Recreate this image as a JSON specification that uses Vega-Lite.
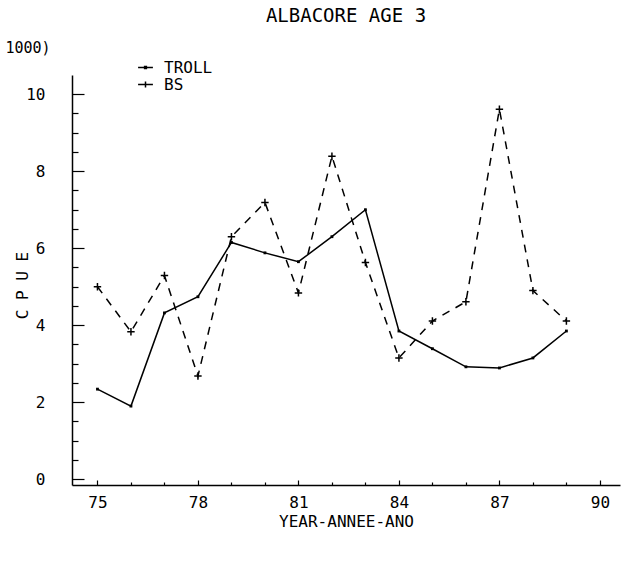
{
  "$schema": "https://vega.github.io/schema/vega-lite/v6.json",
  "width": 548,
  "height": 410,
  "autosize": "none",
  "padding": {"left": 72, "top": 75, "right": 17, "bottom": 78},
  "background": "white",
  "config": {
    "view": {"stroke": null},
    "font": "DejaVu Sans Mono",
    "axis": {
      "grid": false,
      "domainColor": "black",
      "domainWidth": 1.5,
      "tickColor": "black",
      "tickWidth": 1.2,
      "labelColor": "black",
      "titleColor": "black",
      "labelFont": "DejaVu Sans Mono",
      "titleFont": "DejaVu Sans Mono",
      "labelFontSize": 16,
      "titleFontSize": 16,
      "titleFontWeight": "normal"
    },
    "legend": {"labelFont": "DejaVu Sans Mono", "labelFontSize": 16, "labelColor": "black"}
  },
  "title": {
    "text": "ALBACORE AGE 3",
    "font": "DejaVu Sans Mono",
    "fontSize": 19,
    "fontWeight": "normal",
    "color": "black",
    "anchor": "middle",
    "offset": 14
  },
  "data": {
    "values": [
      {"year": 75, "series": "TROLL", "cpue": 2.34},
      {"year": 76, "series": "TROLL", "cpue": 1.9},
      {"year": 77, "series": "TROLL", "cpue": 4.32},
      {"year": 78, "series": "TROLL", "cpue": 4.74},
      {"year": 79, "series": "TROLL", "cpue": 6.15},
      {"year": 80, "series": "TROLL", "cpue": 5.88},
      {"year": 81, "series": "TROLL", "cpue": 5.65},
      {"year": 82, "series": "TROLL", "cpue": 6.3},
      {"year": 83, "series": "TROLL", "cpue": 7.0},
      {"year": 84, "series": "TROLL", "cpue": 3.85},
      {"year": 85, "series": "TROLL", "cpue": 3.39},
      {"year": 86, "series": "TROLL", "cpue": 2.92},
      {"year": 87, "series": "TROLL", "cpue": 2.89},
      {"year": 88, "series": "TROLL", "cpue": 3.15},
      {"year": 89, "series": "TROLL", "cpue": 3.85},
      {"year": 75, "series": "BS", "cpue": 5.0},
      {"year": 76, "series": "BS", "cpue": 3.83},
      {"year": 77, "series": "BS", "cpue": 5.29},
      {"year": 78, "series": "BS", "cpue": 2.68},
      {"year": 79, "series": "BS", "cpue": 6.3},
      {"year": 80, "series": "BS", "cpue": 7.19},
      {"year": 81, "series": "BS", "cpue": 4.84},
      {"year": 82, "series": "BS", "cpue": 8.39},
      {"year": 83, "series": "BS", "cpue": 5.63},
      {"year": 84, "series": "BS", "cpue": 3.15},
      {"year": 85, "series": "BS", "cpue": 4.11},
      {"year": 86, "series": "BS", "cpue": 4.61},
      {"year": 87, "series": "BS", "cpue": 9.61},
      {"year": 88, "series": "BS", "cpue": 4.9},
      {"year": 89, "series": "BS", "cpue": 4.11}
    ]
  },
  "layer": [
    {
      "transform": [{"filter": "datum.series === 'TROLL'"}],
      "mark": {"type": "line", "color": "black", "strokeWidth": 1.5},
      "encoding": {
        "x": {
          "field": "year", "type": "quantitative",
          "scale": {"domain": [74.24, 90.6], "nice": false, "zero": false},
          "axis": {
            "values": [75,76,77,78,79,80,81,82,83,84,85,86,87,88,89,90],
            "labelExpr": "datum.value % 3 === 0 ? datum.label : ''",
            "tickSize": {"condition": {"test": "datum.value % 3 === 0", "value": -5}, "value": -3},
            "labelPadding": 14,
            "title": "YEAR-ANNEE-ANO",
            "titleY": 36,
            "titleBaseline": "middle"
          }
        },
        "y": {
          "field": "cpue", "type": "quantitative",
          "scale": {"domain": [-0.15, 10.5], "nice": false, "zero": false},
          "axis": {
            "values": [0, 2, 4, 6, 8, 10],
            "tickSize": -12,
            "labelPadding": 39,
            "title": "C P U E",
            "titleX": -50,
            "titleY": 210,
            "titleBaseline": "middle",
            "titleAlign": "center"
          }
        }
      }
    },
    {
      "transform": [{"filter": "datum.series === 'BS'"}],
      "mark": {"type": "line", "color": "black", "strokeWidth": 1.5, "strokeDash": [8, 7]},
      "encoding": {
        "x": {
          "field": "year", "type": "quantitative",
          "scale": {"domain": [74.24, 90.6], "nice": false, "zero": false},
          "axis": {
            "values": [75,76,77,78,79,80,81,82,83,84,85,86,87,88,89,90],
            "labelExpr": "datum.value % 3 === 0 ? datum.label : ''",
            "tickSize": {"condition": {"test": "datum.value % 3 === 0", "value": -5}, "value": -3},
            "labelPadding": 14,
            "title": "YEAR-ANNEE-ANO",
            "titleY": 36,
            "titleBaseline": "middle"
          }
        },
        "y": {
          "field": "cpue", "type": "quantitative",
          "scale": {"domain": [-0.15, 10.5], "nice": false, "zero": false},
          "axis": null
        }
      }
    },
    {
      "mark": {"type": "point", "filled": false, "color": "black", "strokeWidth": 1.5, "opacity": 1, "size": 55},
      "encoding": {
        "x": {
          "field": "year", "type": "quantitative",
          "scale": {"domain": [74.24, 90.6], "nice": false, "zero": false},
          "axis": {
            "values": [75,76,77,78,79,80,81,82,83,84,85,86,87,88,89,90],
            "labelExpr": "datum.value % 3 === 0 ? datum.label : ''",
            "tickSize": {"condition": {"test": "datum.value % 3 === 0", "value": -5}, "value": -3},
            "labelPadding": 14,
            "title": "YEAR-ANNEE-ANO",
            "titleY": 36,
            "titleBaseline": "middle"
          }
        },
        "y": {
          "field": "cpue", "type": "quantitative",
          "scale": {"domain": [-0.15, 10.5], "nice": false, "zero": false},
          "axis": {
            "orient": "left",
            "values": [0.5,1,1.5,2.5,3,3.5,4.5,5,5.5,6.5,7,7.5,8.5,9,9.5],
            "tickSize": -6,
            "labels": false,
            "domain": false,
            "title": "1000)",
            "titleAngle": 0,
            "titleAlign": "left",
            "titleBaseline": "middle",
            "titleX": -67,
            "titleY": -28,
            "titleFontSize": 15
          }
        },
        "shape": {
          "field": "series", "type": "nominal",
          "scale": {"domain": ["TROLL", "BS"], "range": ["M-0.18,-0.18H0.18V0.18H-0.18Z", "M-1,0H1M0,-1V1"]},
          "legend": null
        }
      }
    },
    {
      "mark": {"type": "point", "filled": false, "color": "black", "strokeWidth": 1.5, "opacity": 0, "size": 55},
      "encoding": {
        "x": {
          "field": "year", "type": "quantitative",
          "scale": {"domain": [74.24, 90.6], "nice": false, "zero": false},
          "axis": {
            "values": [75,76,77,78,79,80,81,82,83,84,85,86,87,88,89,90],
            "labelExpr": "datum.value % 3 === 0 ? datum.label : ''",
            "tickSize": {"condition": {"test": "datum.value % 3 === 0", "value": -5}, "value": -3},
            "labelPadding": 14,
            "title": "YEAR-ANNEE-ANO",
            "titleY": 36,
            "titleBaseline": "middle"
          }
        },
        "y": {
          "field": "cpue", "type": "quantitative",
          "scale": {"domain": [-0.15, 10.5], "nice": false, "zero": false},
          "axis": null
        },
        "shape": {
          "field": "series", "type": "nominal",
          "scale": {"domain": ["TROLL", "BS"], "range": ["M-1,0H1M-0.12,-0.12H0.12V0.12H-0.12Z", "M-1,0H1M0,-0.4V0.4"]},
          "legend": {
            "title": null,
            "orient": "none",
            "legendX": 65,
            "legendY": -16,
            "rowPadding": 0,
            "labelOffset": 10,
            "symbolSize": 220,
            "symbolOpacity": 1,
            "symbolStrokeWidth": 1.5,
            "symbolStrokeColor": "black"
          }
        }
      }
    }
  ],
  "resolve": {"axis": {"y": "independent"}, "scale": {"shape": "independent"}}
}
